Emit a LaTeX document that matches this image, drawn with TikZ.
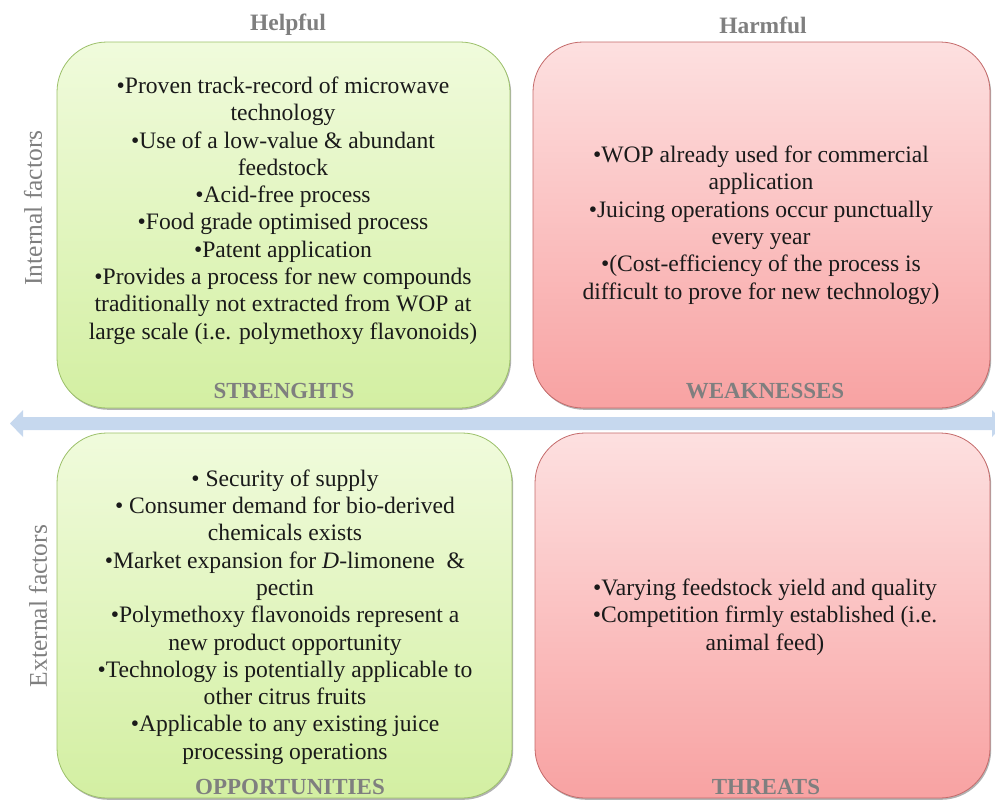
\documentclass[tikz,border=0pt]{standalone}
\usepackage{fontspec}
\setmainfont{Liberation Serif}
\usetikzlibrary{shadows}

\definecolor{gtop}{HTML}{F0FBDC}
\definecolor{gbot}{HTML}{D3EFA2}
\definecolor{gedge}{HTML}{9CC06A}
\definecolor{rtop}{HTML}{FDE0E0}
\definecolor{rbot}{HTML}{F8A2A2}
\definecolor{redge}{HTML}{C46A6A}
\definecolor{arrowblue}{HTML}{C6D8EE}
\definecolor{labelgray}{HTML}{7F7F7F}
\definecolor{bodyink}{HTML}{1A1A1A}

\begin{document}
\begin{tikzpicture}[x=1pt, y=-1pt,
  quad/.style={draw, line width=0.8pt, rounded corners=50pt, inner sep=0pt,
    drop shadow={shadow xshift=1.2pt, shadow yshift=-1.8pt, opacity=0.3, fill=black}},
  good/.style={quad, draw=gedge, top color=gtop, bottom color=gbot},
  bad/.style={quad, draw=redge, top color=rtop, bottom color=rbot},
  body/.style={align=center, inner sep=0pt, font=\fontsize{23.6}{27.3}\selectfont, text=bodyink},
  quadtitle/.style={inner sep=0pt, font=\fontsize{23}{26}\selectfont\bfseries, text=labelgray},
  axistitle/.style={inner sep=0pt, font=\fontsize{23.5}{26}\selectfont\bfseries, text=labelgray},
  sidetitle/.style={inner sep=0pt, font=\fontsize{25.5}{28}\selectfont, text=labelgray, rotate=90}]

\useasboundingbox (0,0) rectangle (995,801);

% column headings
\node[axistitle] (helpful) at (288,25) {Helpful};
\node[axistitle] (harmful) at (763,25) {Harmful};

% row headings
\node[sidetitle] (internal) at (33,208) {Internal factors};
\node[sidetitle] (external) at (38,606) {External factors};

% the four quadrants
\node[good, minimum width=453pt, minimum height=366pt] (S) at (283.5,225) {};
\node[bad,  minimum width=457pt, minimum height=366pt] (W) at (761.5,225) {};
\node[good, minimum width=455pt, minimum height=365pt] (O) at (284.5,615.5) {};
\node[bad,  minimum width=455pt, minimum height=365pt] (T) at (762.5,615.5) {};

% horizontal double arrow between the rows
\begin{scope}
  \clip (0,0) rectangle (995,801);
  \fill[arrowblue] (10,423.5) -- (23,410) -- (23,417) -- (992,417) -- (992,410)
    -- (1005,423.5) -- (992,437) -- (992,430) -- (23,430) -- (23,437) -- cycle;
\end{scope}

% quadrant contents
\node[body] (Stext) at (283,210.5) {%
  •Proven track-record of microwave\\
  technology\\
  •Use of a low-value \& abundant\\
  feedstock\\
  •Acid-free process\\
  •Food grade optimised process\\
  •Patent application\\
  •Provides a process for new compounds\\
  traditionally not extracted from WOP at\\
  large scale (i.e. polymethoxy flavonoids)};

\node[body] (Wtext) at (761,225) {%
  •WOP already used for commercial\\
  application\\
  •Juicing operations occur punctually\\
  every year\\
  •(Cost-efficiency of the process is\\
  difficult to prove for new technology)};

\node[body] (Otext) at (285,617) {%
  • Security of supply\\
  • Consumer demand for bio-derived\\
  chemicals exists\\
  •Market expansion for \textit{D}-limonene \ \&\\
  pectin\\
  •Polymethoxy flavonoids represent a\\
  new product opportunity\\
  •Technology is potentially applicable to\\
  other citrus fruits\\
  •Applicable to any existing juice\\
  processing operations};

\node[body] (Ttext) at (765,617) {%
  •Varying feedstock yield and quality\\
  •Competition firmly established (i.e.\\
  animal feed)};

% quadrant names
\node[quadtitle] (Sname) at (284,391) {STRENGHTS};
\node[quadtitle] (Wname) at (765,391) {WEAKNESSES};
\node[quadtitle] (Oname) at (290,787) {OPPORTUNITIES};
\node[quadtitle] (Tname) at (766,787) {THREATS};

\end{tikzpicture}
\end{document}
